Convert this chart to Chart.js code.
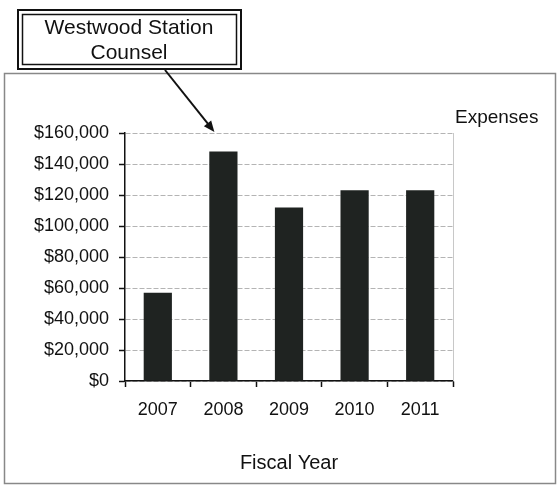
<!DOCTYPE html>
<html>
<head>
<meta charset="utf-8">
<script src="https://cdn.jsdelivr.net/npm/chart.js@4/dist/chart.umd.min.js"></script>
<style>
  html, body { margin: 0; padding: 0; background: #fff; }
  canvas { display: block; }
</style>
</head>
<body>
<canvas id="expenseChart" width="560" height="487"></canvas>
<script>
// Chart data
const YEARS = ["2007", "2008", "2009", "2010", "2011"];
const EXPENSES = [57000, 148000, 112000, 123000, 123000];
const SERIES_LABEL = "Expenses";
const CALLOUT_LINES = ["Westwood Station", "Counsel"];
const CALLOUT_YEAR = "2008";

const FONT = "Arial, 'Liberation Sans', sans-serif";
const INK = "#111";

function money(v) {
    return "$" + v.toLocaleString("en-US");
}

// Outer frame, callout box with arrow, and the series caption
const decorations = {
    id: "decorations",
    beforeDraw(chart) {
        const ctx = chart.ctx;
        ctx.save();
        ctx.fillStyle = "#fff";
        ctx.fillRect(0, 0, chart.width, chart.height);
        ctx.strokeStyle = "#888";
        ctx.lineWidth = 1.5;
        ctx.strokeRect(4.5, 73.5, 551, 410);
        ctx.restore();
    },
    afterDraw(chart) {
        const ctx = chart.ctx;
        const area = chart.chartArea;
        const x = chart.scales.x;
        const y = chart.scales.y;

        ctx.save();
        // right edge of plot area
        ctx.strokeStyle = "#c8c8c8";
        ctx.lineWidth = 1;
        ctx.beginPath();
        ctx.moveTo(area.right + 0.5, area.top);
        ctx.lineTo(area.right + 0.5, area.bottom);
        ctx.stroke();

        // series caption
        ctx.fillStyle = INK;
        ctx.font = "19px " + FONT;
        ctx.textAlign = "left";
        ctx.textBaseline = "middle";
        ctx.fillText(chart.data.datasets[0].label, 455, 118);

        // callout box (double border)
        ctx.fillStyle = "#fff";
        ctx.fillRect(17, 9, 225, 61);
        ctx.strokeStyle = "#111";
        ctx.lineWidth = 2;
        ctx.strokeRect(18, 10, 223, 59);
        ctx.lineWidth = 1.5;
        ctx.strokeRect(22.5, 14.5, 214, 50);

        ctx.fillStyle = INK;
        ctx.font = "21px " + FONT;
        ctx.textAlign = "center";
        CALLOUT_LINES.forEach((line, i) => ctx.fillText(line, 129, 28 + i * 25));

        // arrow toward the top of the highlighted bar
        const idx = YEARS.indexOf(CALLOUT_YEAR);
        const tipX = x.getPixelForValue(idx) - 9;
        const tipY = y.getPixelForValue(y.max) - 1;
        const fromX = 165, fromY = 70;
        const ang = Math.atan2(tipY - fromY, tipX - fromX);
        ctx.strokeStyle = "#111";
        ctx.lineWidth = 2;
        ctx.beginPath();
        ctx.moveTo(fromX, fromY);
        ctx.lineTo(tipX - 8 * Math.cos(ang), tipY - 8 * Math.sin(ang));
        ctx.stroke();
        ctx.fillStyle = "#111";
        ctx.beginPath();
        ctx.moveTo(tipX, tipY);
        ctx.lineTo(tipX - 12 * Math.cos(ang - 0.4), tipY - 12 * Math.sin(ang - 0.4));
        ctx.lineTo(tipX - 12 * Math.cos(ang + 0.4), tipY - 12 * Math.sin(ang + 0.4));
        ctx.closePath();
        ctx.fill();
        ctx.restore();
    }
};

new Chart(document.getElementById("expenseChart"), {
    type: "bar",
    data: {
        labels: YEARS,
        datasets: [{
            label: SERIES_LABEL,
            data: EXPENSES,
            backgroundColor: "#1f2321",
            borderWidth: 0,
            barPercentage: 0.43,
            categoryPercentage: 1.0
        }]
    },
    options: {
        responsive: false,
        animation: false,
        layout: { padding: { top: 133, right: 107, left: 0, bottom: 0 } },
        plugins: {
            legend: { display: false },
            tooltip: { enabled: false }
        },
        scales: {
            x: {
                afterFit(scale) { scale.height = 106; },
                grid: {
                    offset: true,
                    drawOnChartArea: false,
                    tickLength: 6,
                    tickColor: "#111",
                    tickWidth: 1.5
                },
                border: { color: "#111", width: 1.5 },
                ticks: {
                    color: INK,
                    padding: 12,
                    font: { family: FONT, size: 18 }
                },
                title: {
                    display: true,
                    text: "Fiscal Year",
                    color: INK,
                    font: { family: FONT, size: 20 },
                    padding: { top: 12, bottom: 12 }
                }
            },
            y: {
                min: 0,
                max: 160000,
                afterFit(scale) { scale.width = 125; },
                grid: {
                    color: "#b4b4b4",
                    lineWidth: 1,
                    tickLength: 6,
                    tickColor: "#111",
                    tickWidth: 1.5
                },
                border: { color: "#111", width: 1.5, dash: [5, 2] },
                ticks: {
                    stepSize: 20000,
                    color: INK,
                    padding: 10,
                    font: { family: FONT, size: 18 },
                    callback: (v) => money(v)
                }
            }
        }
    },
    plugins: [decorations]
});
</script>
</body>
</html>
